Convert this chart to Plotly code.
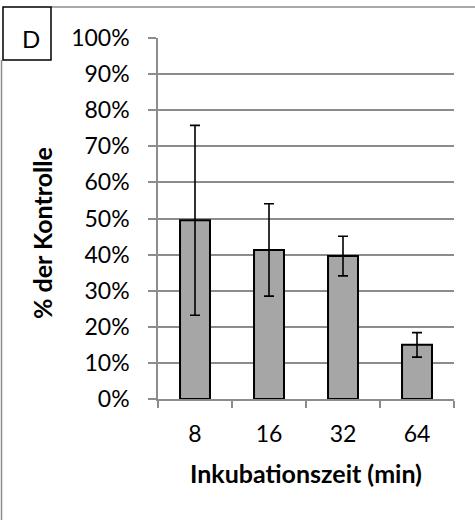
import plotly.graph_objects as go

# Inkubationszeit (min) and relative activity with error bars
categories = ["8", "16", "32", "64"]
values = [0.495, 0.413, 0.396, 0.150]
errors = [0.263, 0.128, 0.055, 0.034]
y_ticks = [i / 10 for i in range(11)]

W, H = 475, 520
L, R, T, B = 158, 21, 38, 121
PW, PH = W - L - R, H - T - B


def px_x(p):
    return (p - L) / PW


def px_y(p):
    return (H - B - p) / PH


FONT = "Lato"
GRID = "#8c8c8c"

fig = go.Figure(
    go.Bar(
        x=categories,
        y=values,
        marker=dict(color="#a6a6a6", line=dict(color="#000000", width=2)),
        error_y=dict(type="data", array=errors, visible=True,
                     color="#000000", thickness=1.6, width=5),
    )
)

fig.update_layout(
    width=W,
    height=H,
    margin=dict(l=L, r=R, t=T, b=B),
    paper_bgcolor="white",
    plot_bgcolor="white",
    bargap=0.595,
    showlegend=False,
    font=dict(family=FONT, size=23, color="#000000"),
    xaxis=dict(
        type="category",
        showline=True,
        linecolor=GRID,
        linewidth=1.5,
        ticks="outside",
        tickson="boundaries",
        ticklen=7,
        tickcolor=GRID,
        tickwidth=1.5,
        showgrid=False,
        ticklabelstandoff=14,
        tickfont=dict(family=FONT, size=23),
    ),
    yaxis=dict(
        range=[0, 1],
        tickvals=y_ticks,
        tickformat=".0%",
        showline=True,
        linecolor=GRID,
        linewidth=1.5,
        ticks="outside",
        ticklen=8,
        tickcolor=GRID,
        tickwidth=1.5,
        showgrid=True,
        gridcolor=GRID,
        gridwidth=1.5,
        zeroline=False,
        ticklabelstandoff=14,
        tickfont=dict(family=FONT, size=23),
    ),
    annotations=[
        dict(text="<b>Inkubationszeit (min)</b>", xref="paper", yref="paper",
             x=px_x(306), y=px_y(473), xanchor="center", yanchor="middle",
             showarrow=False, font=dict(family=FONT, size=25)),
        dict(text="<b>% der Kontrolle</b>", xref="paper", yref="paper",
             x=px_x(42), y=px_y(233), xanchor="center", yanchor="middle",
             textangle=-90, showarrow=False, font=dict(family=FONT, size=25)),
        dict(text="D", xref="paper", yref="paper",
             x=px_x(31), y=px_y(39), xanchor="center", yanchor="middle",
             showarrow=False, font=dict(family=FONT, size=24)),
    ],
    shapes=[
        # outer chart frame (top and left edges)
        dict(type="line", xref="paper", yref="paper",
             x0=px_x(51), x1=px_x(480), y0=px_y(7), y1=px_y(7),
             line=dict(color=GRID, width=1.5)),
        dict(type="line", xref="paper", yref="paper",
             x0=px_x(1.5), x1=px_x(1.5), y0=px_y(60), y1=px_y(525),
             line=dict(color=GRID, width=1.5)),
        # panel letter box
        dict(type="rect", xref="paper", yref="paper",
             x0=px_x(3), x1=px_x(51), y0=px_y(7), y1=px_y(60),
             line=dict(color="#000000", width=1.5), fillcolor="white"),
    ],
)

fig.write_html("out.html")
